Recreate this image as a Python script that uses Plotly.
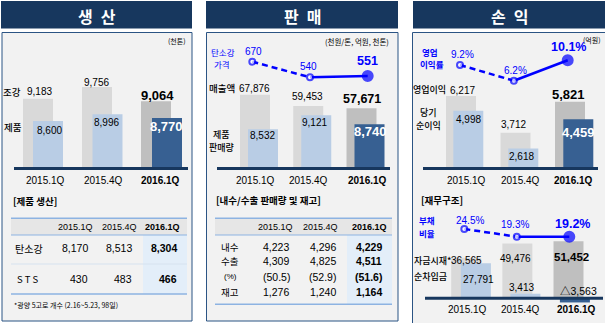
import plotly.graph_objects as go

W, H = 605, 323

# ---------------- data ----------------
quarters = ["2015.1Q", "2015.4Q", "2016.1Q"]
crude_steel = [9183, 9756, 9064]        # 조강 (천톤)
product_output = [8600, 8996, 8770]     # 제품 (천톤)
sales_revenue = [67876, 59453, 57671]   # 매출액 (억원)
product_sales = [8532, 9121, 8740]      # 제품 판매량 (천톤)
carbon_price = [670, 540, 551]          # 탄소강 가격 (천원/톤)
operating_profit = [6217, 3712, 5821]   # 영업이익 (억원)
net_profit = [4998, 2618, 4459]         # 당기순이익 (억원)
operating_margin = [9.2, 6.2, 10.1]     # 영업이익률 (%)
cash_on_hand = [36565, 49476, 51452]    # 자금시재 (억원)
net_debt = [27791, 3413, -3563]         # 순차입금 (억원)
debt_ratio = [24.5, 19.3, 19.2]         # 부채비율 (%)

prod_carbon = [8170, 8513, 8304]        # 탄소강 생산
prod_sts = [430, 483, 466]              # STS 생산
domestic = [4223, 4296, 4229]           # 내수
export = [4309, 4825, 4511]             # 수출
export_pct = [50.5, 52.9, 51.6]         # 수출 비중 (%)
inventory = [1276, 1240, 1164]          # 재고

# ---------------- style ----------------
NAVY = "#17375e"
PANEL_BG = "#f2f2f2"
BORDER = "#2b5484"
GRAY = ["#d9d9d9", "#d9d9d9", "#bfbfbf"]
BLUE = ["#b9cde5", "#b9cde5", "#376092"]
LINE = "#0000ff"
TBL_LINE = "#8db3e2"
NUM = "Liberation Sans, Noto Sans CJK KR, sans-serif"
KOR = "Noto Sans CJK KR, sans-serif"

fig = go.Figure()
axes = {}
count = [0]


def subplot(c0, unit, p_lo, p_hi, p_ref, v_ref, per_px):
    """c0: pixel x of first category, unit: px between categories.
    p_lo/p_hi: bottom/top pixel of the plotting band.
    value at pixel p = v_ref + (p_ref - p) * per_px"""
    count[0] += 1
    k = count[0]
    s = "" if k == 1 else str(k)
    axes["xaxis" + s] = dict(domain=[0, 1], range=[-c0 / unit, (W - c0) / unit],
                             visible=False, fixedrange=True, anchor="y" + s)
    axes["yaxis" + s] = dict(domain=[max(0, 1 - p_lo / H), min(1, 1 - p_hi / H)],
                             range=[v_ref + (p_ref - p_lo) * per_px, v_ref + (p_ref - p_hi) * per_px],
                             visible=False, fixedrange=True, anchor="x" + s)
    return "x" + s, "y" + s


def bars(vals, colors, c0, unit, p_lo, p_hi, p_ref, v_ref, per_px, bw_px=30):
    xa, ya = subplot(c0, unit, p_lo, p_hi, p_ref, v_ref, per_px)
    fig.add_trace(go.Bar(x=list(range(len(vals))), y=vals, width=bw_px / unit,
                         marker=dict(color=colors, line=dict(width=0)),
                         xaxis=xa, yaxis=ya, hoverinfo="skip"))


def trend(vals, c0, unit, p_lo, p_hi, p_ref, v_ref, per_px):
    xa, ya = subplot(c0, unit, p_lo, p_hi, p_ref, v_ref, per_px)
    idx = list(range(len(vals)))
    fig.add_trace(go.Scatter(x=idx[:2], y=vals[:2], mode="lines",
                             line=dict(color=LINE, width=2.5, dash="6px,4px"),
                             xaxis=xa, yaxis=ya, hoverinfo="skip", cliponaxis=False))
    fig.add_trace(go.Scatter(x=idx[1:], y=vals[1:], mode="lines",
                             line=dict(color=LINE, width=2.5),
                             xaxis=xa, yaxis=ya, hoverinfo="skip", cliponaxis=False))
    fig.add_trace(go.Scatter(x=idx, y=vals, mode="markers",
                             marker=dict(size=[6, 6, 10], color=["white", "white", LINE],
                                         line=dict(color=LINE, width=2)),
                             xaxis=xa, yaxis=ya, hoverinfo="skip", cliponaxis=False))


# ---------------- charts ----------------
# 생산
bars(crude_steel, GRAY, 38, 59, 168, 40, 168, 5851, 48.2)
bars(product_output, BLUE, 48, 59.5, 168, 40, 121, 8600, 59)
# 판매
bars(sales_revenue, GRAY, 255, 53.25, 168, 40, 168, 12200, 761)
bars(product_sales, BLUE, 263, 53.25, 168, 40, 168, 6902.5, 42.1)
trend(carbon_price, 252.3, 57.7, 100, 40, 61.7, 670, 8.33)
# 손익
bars(operating_profit, GRAY, 461, 54.5, 168, 40, 96, 6217, 68.3)
bars(net_profit, BLUE, 468.3, 55, 168, 40, 168, 1380, 63.3)
trend(operating_margin, 460, 53.85, 100, 40, 65, 9.2, 0.191)
# 재무구조
bars(cash_on_hand, GRAY, 466.2, 51.15, 298, 200, 298, 0, 908)
bars(net_debt, BLUE, 475.9, 49.5, 323, 200, 298, 0, 800)
trend(debt_ratio, 464.3, 52.5, 260, 205, 229, 24.5, 0.675)

# ---------------- shapes ----------------
shapes = []


def rect(x0, y0, x1, y1, fill, line=None, lw=0, layer="below"):
    shapes.append(dict(type="rect", xref="paper", yref="paper", x0=x0 / W, x1=x1 / W,
                       y0=1 - y1 / H, y1=1 - y0 / H, fillcolor=fill, layer=layer,
                       line=dict(color=line or fill, width=lw)))


def hline(x0, x1, y, color, lw, layer="below"):
    shapes.append(dict(type="line", xref="paper", yref="paper", x0=x0 / W, x1=x1 / W,
                       y0=1 - y / H, y1=1 - y / H, layer=layer, line=dict(color=color, width=lw)))


# panels
for (tx0, tx1, bx0, bx1, by1) in [(1, 192, 2, 192, 321), (206, 398, 206.5, 398, 321), (413, 605, 412.5, 606, 330)]:
    rect(tx0, 1, tx1, 28.5, NAVY)
    rect(bx0, 32.5, bx1, by1, PANEL_BG, BORDER, 1)

# table 1
rect(11, 218, 187, 235, "#e6e6e6")
rect(143, 235, 187, 293.5, "#e3eef9")
hline(11, 187, 218.3, TBL_LINE, 1.5)
hline(11, 187, 235, TBL_LINE, 1)
hline(11, 187, 264, "#d6e2ef", 1)
hline(11, 187, 294, TBL_LINE, 1.5)
# table 2
rect(215, 218, 392, 235, "#e6e6e6")
rect(347, 235, 392, 304, "#e3eef9")
hline(215, 392, 218.3, TBL_LINE, 1.5)
hline(215, 392, 235, TBL_LINE, 1)
hline(215, 392, 304.3, TBL_LINE, 1.5)

# baselines
hline(14, 188, 168.5, NAVY, 3, "above")
hline(217, 390, 168.5, NAVY, 3, "above")
hline(423, 598, 168.5, NAVY, 3, "above")
hline(425, 603, 298.3, NAVY, 3, "above")

# ---------------- text ----------------
ann = []


def txt(s, x, y, size=10, color="#000000", bold=False, xanchor="center", font=NUM, weight=None):
    if bold:
        s = "<b>" + s + "</b>"
    f = dict(size=size, color=color, family=font)
    if weight:
        f["weight"] = weight
    ann.append(dict(text=s, x=x / W, y=1 - y / H, xref="paper", yref="paper",
                    xanchor=xanchor, yanchor="middle", showarrow=False, font=f))


def n(v):
    return f"{v:,}" if v >= 0 else "△" + f"{abs(v):,}"


# titles
txt("생\u2002산", 96.5, 16, 16, "white", True, font=KOR)
txt("판\u2002매", 302.5, 16, 16, "white", True, font=KOR)
txt("손\u2002익", 509.2, 16, 16, "white", True, font=KOR)

# ---- 생산
txt("(천톤)", 177, 41, 7, font=KOR)
txt("조강", 12, 91.7, 9.5, font=KOR, weight=500)
txt("제품", 12.5, 127.3, 9.5, font=KOR, weight=500)
pos_cs = [(39.5, 91.7), (96.7, 82.3), (157, 95)]
pos_po = [(49.8, 130), (106.7, 122.3), (166.7, 126.7)]
for i in range(3):
    last = i == 2
    txt(n(crude_steel[i]), *pos_cs[i], 13 if last else 10, bold=last)
    txt(n(product_output[i]), *pos_po[i], 13 if last else 10, "white" if last else "#000000", last)
for i, xq in enumerate([45, 103.8, 160.8]):
    txt(quarters[i], xq, 180, 10, bold=(i == 2))
txt("[제품 생산]", 11, 200.7, 9.5, bold=True, xanchor="left", font=KOR)
for i, xq in enumerate([75.7, 119, 162]):
    txt(quarters[i], xq, 226.7, 9, bold=(i == 2))
txt("탄소강", 28.8, 248.3, 10, font=KOR)
txt("S T S", 28, 279.3, 9.5, font=KOR)
for i, xr in enumerate([90, 134, 179]):
    txt(n(prod_carbon[i]), xr, 248.3, 10.5, bold=(i == 2), xanchor="right")
    txt(n(prod_sts[i]), xr, 279.3, 10.5, bold=(i == 2), xanchor="right")
txt("*광양 5고로 개수 (2.16~5.23, 98일)", 12, 305, 7, xanchor="left", font=KOR)

# ---- 판매
txt("(천원/톤, 억원, 천톤)", 356.7, 41, 7.5, font=KOR)
txt("탄소강", 222.5, 52, 8.5, LINE, font=KOR)
txt("가격", 221.7, 64.3, 8.5, LINE, font=KOR)
pos_cp = [(253.7, 51), (308.7, 66.7), (367.7, 60.7)]
for i in range(3):
    txt(n(carbon_price[i]), *pos_cp[i], 12.5 if i == 2 else 10, LINE, i == 2)
txt("매출액", 221.7, 87.7, 9.5, font=KOR, weight=500)
txt("제품", 221.7, 134, 9, font=KOR, weight=500)
txt("판매량", 221.7, 147.2, 9, font=KOR, weight=500)
pos_sr = [(254.7, 88.3), (308, 96.7), (362.2, 99.3)]
pos_ps = [(262.5, 135.7), (314.2, 122.3), (370, 131)]
for i in range(3):
    last = i == 2
    txt(n(sales_revenue[i]), *pos_sr[i], 12.5 if last else 10, bold=last)
    txt(n(product_sales[i]), *pos_ps[i], 13 if last else 10, "white" if last else "#000000", last)
for i, xq in enumerate([255.5, 308.8, 367.5]):
    txt(quarters[i], xq, 180, 10, bold=(i == 2))
txt("[내수/수출 판매량 및 재고]", 214, 200, 9.5, bold=True, xanchor="left", font=KOR)
for i, xq in enumerate([275.3, 320.5, 369.2]):
    txt(quarters[i], xq, 226.7, 9, bold=(i == 2))
txt("내수", 230, 247, 9.5, font=KOR)
txt("수출", 230, 261, 9.5, font=KOR)
txt("(%)", 230, 276.7, 8)
txt("재고", 230, 292.3, 9.5, font=KOR)
for i, xc in enumerate([276.3, 322.5, 368.8]):
    b = i == 2
    txt(n(domestic[i]), xc, 247.2, 10.5, bold=b)
    txt(n(export[i]), xc, 261, 10.5, bold=b)
    txt(f"({export_pct[i]})", xc, 276.7, 10.5, bold=b)
    txt(n(inventory[i]), xc, 292.3, 10.5, bold=b)

# ---- 손익
txt("(억원)", 592, 40, 7, font=KOR)
txt("영업", 430, 52.2, 8.5, LINE, True, font=KOR)
txt("이익률", 431.7, 64.5, 8.5, LINE, True, font=KOR)
pos_om = [(462.2, 55), (515, 70), (568.7, 46.7)]
for i in range(3):
    txt(f"{operating_margin[i]}%", *pos_om[i], 12.5 if i == 2 else 10, LINE, i == 2)
txt("영업이익", 429.7, 89.3, 9, font=KOR, weight=500)
txt("당기", 428.3, 112.5, 9, font=KOR, weight=500)
txt("순이익", 428.3, 125.3, 9, font=KOR, weight=500)
pos_op = [(462.5, 90), (513.5, 124), (568, 94.3)]
pos_np = [(468.7, 119), (521.7, 156.7), (578.7, 132.7)]
for i in range(3):
    last = i == 2
    txt(n(operating_profit[i]), *pos_op[i], 13 if last else 10, bold=last)
    txt(n(net_profit[i]), *pos_np[i], 13 if last else 10, "white" if last else "#000000", last)
for i, xq in enumerate([466.7, 520, 573.3]):
    txt(quarters[i], xq, 180, 10, bold=(i == 2))

# ---- 재무구조
txt("[재무구조]", 419, 200, 9.5, bold=True, xanchor="left", font=KOR)
txt("부채", 426.7, 220.3, 8.5, LINE, True, font=KOR)
txt("비율", 426.7, 232.6, 8.5, LINE, True, font=KOR)
pos_dr = [(469.7, 220), (515, 224.3), (572.5, 224.3)]
for i in range(3):
    txt(f"{debt_ratio[i]}%", *pos_dr[i], 12.5 if i == 2 else 10, LINE, i == 2)
txt("자금시재*", 432.5, 260, 9, font=KOR, weight=500)
txt("순차입금", 430, 276.7, 9, font=KOR, weight=500)
pos_ch = [(466.7, 260), (515.8, 258.3), (571.7, 257.3)]
pos_nd = [(478.3, 279), (521.7, 287.3), (578.8, 291)]
for i in range(3):
    last = i == 2
    txt(n(cash_on_hand[i]), *pos_ch[i], 11.5 if last else 10, bold=last)
    txt(n(net_debt[i]), *pos_nd[i], 10.5 if last else 10)
for i, xq in enumerate([467.3, 520.7, 576.7]):
    txt(quarters[i], xq, 309.3, 10, bold=(i == 2))

fig.update_layout(
    width=W, height=H, margin=dict(l=0, r=0, t=0, b=0, pad=0),
    paper_bgcolor="white", plot_bgcolor="rgba(0,0,0,0)",
    showlegend=False, hovermode=False, barmode="overlay",
    shapes=shapes, annotations=ann, **axes,
)

fig.write_html("out.html", config={"displayModeBar": False})
